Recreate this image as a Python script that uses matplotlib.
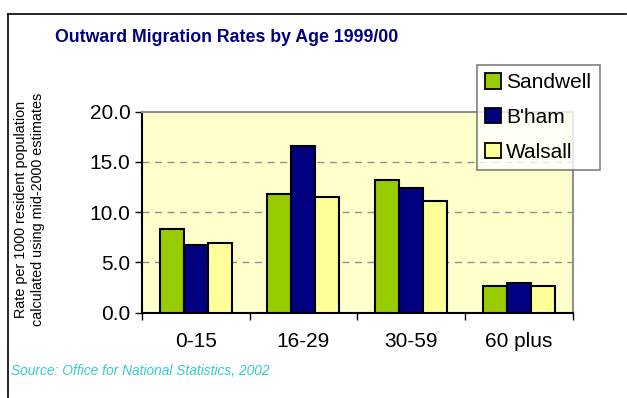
import matplotlib
matplotlib.use("Agg")
import matplotlib.pyplot as plt
import numpy as np
from matplotlib.lines import Line2D
from matplotlib.patches import Patch

plt.rcParams['font.family'] = ['Liberation Sans', 'DejaVu Sans']

categories = ["0-15", "16-29", "30-59", "60 plus"]
series_names = ["Sandwell", "B'ham", "Walsall"]
sandwell = [8.3, 11.8, 13.2, 2.7]
bham = [6.7, 16.6, 12.4, 3.0]
walsall = [6.9, 11.5, 11.1, 2.7]
y_ticks = [0.0, 5.0, 10.0, 15.0, 20.0]

colors = ["#99CC00", "#000080", "#FFFF99"]

fig = plt.figure(figsize=(6.27, 3.98), dpi=100)
fig.patch.set_facecolor("white")

# outer frame (left and top edges)
fig.add_artist(Line2D([8/627, 8/627], [0, 1 - 14/398], transform=fig.transFigure,
                      color="black", lw=1.2))
fig.add_artist(Line2D([8/627, 626/627], [1 - 14/398, 1 - 14/398], transform=fig.transFigure,
                      color="black", lw=1.2))

ax = fig.add_axes([141.7/627, 1 - 312.7/398, (573 - 141.7)/627, (312.7 - 111.7)/398])
ax.set_facecolor("#FFFFCC")

x = np.arange(len(categories))
bw = 1 / 4.5
for i, (vals, name, c) in enumerate(zip([sandwell, bham, walsall], series_names, colors)):
    ax.bar(x + (i - 1) * bw, vals, width=bw, color=c, edgecolor="black", linewidth=1.5,
           label=name, zorder=3)

ax.set_xlim(-0.5, len(categories) - 0.5)
ax.set_ylim(0, 20)
ax.set_yticks(y_ticks)
ax.set_yticklabels([f"{v:.1f}" for v in y_ticks], fontsize=15)
ax.set_xticks(x)
ax.set_xticklabels(categories, fontsize=15)
ax.tick_params(axis="x", length=0, pad=14)
ax.set_xticks(np.arange(len(categories) + 1) - 0.5, minor=True)
ax.tick_params(axis="x", which="minor", length=5, width=1, direction="out")
ax.tick_params(axis="y", length=5, width=1, direction="out", pad=3)

for yv in y_ticks[1:-1]:
    ax.axhline(yv, color="#909090", lw=1.0, dashes=(5, 4), zorder=1)

ax.spines["left"].set_color("black")
ax.spines["bottom"].set_color("black")
ax.spines["top"].set_color("#909090")
ax.spines["right"].set_color("#909090")
for s in ax.spines.values():
    s.set_linewidth(1.5)

fig.text(29.5/627, 1 - 209/398,
         "Rate per 1000 resident population\ncalculated using mid-2000 estimates",
         fontsize=10.4, rotation=90, ha="center", va="center", linespacing=1.2)

fig.text(55/627, 1 - 38/398, "Outward Migration Rates by Age 1999/00",
         fontsize=12.8, fontweight="bold", color="#000080", va="center", ha="left")

handles = [Patch(facecolor=c, edgecolor="black", linewidth=1.3) for c in colors]
leg = fig.legend(handles, series_names, loc="upper left",
                 bbox_to_anchor=(477/627, 1 - 65/398), fontsize=15,
                 frameon=True, fancybox=False, edgecolor="#606060",
                 handlelength=0.75, handleheight=0.75, handletextpad=0.25,
                 labelspacing=0.75, borderpad=0.4, borderaxespad=0)
leg.get_frame().set_linewidth(1.2)

fig.text(11/627, 1 - 371/398, "Source: Office for National Statistics, 2002",
         fontsize=9.9, style="italic", color="#33CCCC", va="center", ha="left")

fig.savefig("out.png", dpi=100)
